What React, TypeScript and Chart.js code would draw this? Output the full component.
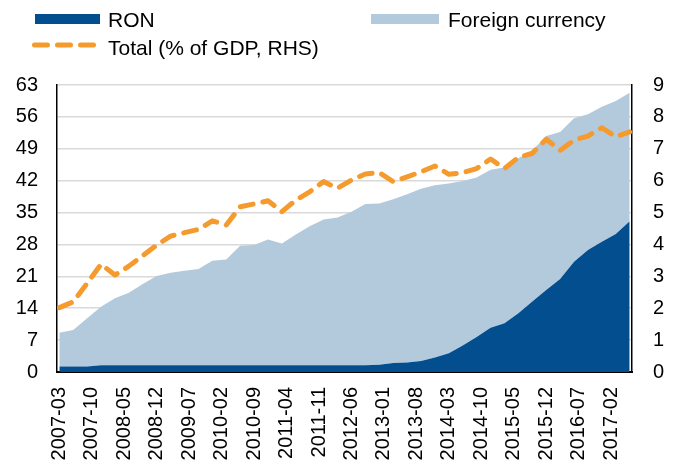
import React, { useEffect, useRef } from 'react';
import { Chart, registerables } from 'chart.js';

Chart.register(...registerables);

// Quarterly observations (end of quarter)
const quarters = [
  '2007-03', '2007-06', '2007-09', '2007-12',
  '2008-03', '2008-06', '2008-09', '2008-12',
  '2009-03', '2009-06', '2009-09', '2009-12',
  '2010-03', '2010-06', '2010-09', '2010-12',
  '2011-03', '2011-06', '2011-09', '2011-12',
  '2012-03', '2012-06', '2012-09', '2012-12',
  '2013-03', '2013-06', '2013-09', '2013-12',
  '2014-03', '2014-06', '2014-09', '2014-12',
  '2015-03', '2015-06', '2015-09', '2015-12',
  '2016-03', '2016-06', '2016-09', '2016-12',
  '2017-03', '2017-06',
];

// Stock, LHS
const ron = [
  1.2, 1.2, 1.2, 1.5, 1.5, 1.5, 1.5, 1.5, 1.5, 1.5,
  1.5, 1.5, 1.5, 1.5, 1.5, 1.5, 1.5, 1.5, 1.5, 1.5,
  1.5, 1.5, 1.5, 1.6, 2.0, 2.1, 2.4, 3.2, 4.1, 5.8,
  7.7, 9.7, 10.7, 12.9, 15.5, 18.0, 20.4, 24.2, 26.8, 28.6,
  30.3, 33.1,
];

const foreign = [
  7.4, 8.0, 10.6, 12.8, 14.7, 15.9, 17.8, 19.6, 20.3, 20.7,
  21.1, 22.9, 23.2, 26.2, 26.4, 27.6, 26.7, 28.7, 30.5, 32.0,
  32.4, 33.7, 35.4, 35.4, 35.9, 36.9, 37.8, 37.8, 37.3, 36.1,
  35.0, 34.7, 34.2, 34.0, 33.1, 33.8, 32.3, 31.5, 29.8, 29.6,
  29.2, 28.2,
];

// Total, % of GDP, RHS
const totalGdp = [
  2.02, 2.2, 2.78, 3.38, 3.04, 3.32, 3.65, 3.98, 4.26, 4.37,
  4.47, 4.74, 4.61, 5.18, 5.27, 5.37, 5.03, 5.39, 5.65, 5.97,
  5.76, 6.02, 6.21, 6.25, 5.97, 6.12, 6.28, 6.46, 6.2, 6.25,
  6.38, 6.68, 6.38, 6.73, 6.86, 7.3, 6.95, 7.27, 7.4, 7.66,
  7.38, 7.53,
];

const xTickLabels = [
  '2007-03', '2007-10', '2008-05', '2008-12', '2009-07', '2010-02',
  '2010-09', '2011-04', '2011-11', '2012-06', '2013-01', '2013-08',
  '2014-03', '2014-10', '2015-05', '2015-12', '2016-07', '2017-02',
];

const DARK = '#024E8E';
const LIGHT = '#B3C9DC';
const ORANGE = '#F59B2E';
const FONT = '"Liberation Sans", Arial, sans-serif';

const monthIndex = (s: string) => {
  const [y, m] = s.split('-').map(Number);
  return (y - 2007) * 12 + (m - 3);
};

const firstMonth = monthIndex(quarters[0]);
const lastMonth = monthIndex(quarters[quarters.length - 1]);

const pts = (vals: number[]) => vals.map((v, i) => ({ x: monthIndex(quarters[i]), y: v }));

const legendPlugin = {
  id: 'customLegend',
  afterDraw(chart: any) {
    const ctx = chart.ctx;
    const ds = chart.data.datasets;
    ctx.save();
    ctx.font = `21px ${FONT}`;
    ctx.textBaseline = 'alphabetic';
    ctx.textAlign = 'left';
    // RON
    ctx.fillStyle = DARK;
    ctx.fillRect(35, 14, 65, 10);
    ctx.fillStyle = '#000';
    ctx.fillText(ds[1].label, 108, 27);
    // Foreign currency
    ctx.fillStyle = LIGHT;
    ctx.fillRect(371, 14, 68, 10);
    ctx.fillStyle = '#000';
    ctx.fillText(ds[2].label, 448, 27);
    // Total
    ctx.strokeStyle = ORANGE;
    ctx.lineWidth = 5;
    ctx.lineCap = 'round';
    ctx.setLineDash([13, 10]);
    ctx.beginPath();
    ctx.moveTo(34.5, 45);
    ctx.lineTo(94, 45);
    ctx.stroke();
    ctx.setLineDash([]);
    ctx.fillStyle = '#000';
    ctx.fillText(ds[0].label, 108, 55);
    ctx.restore();
  },
};

export default function App() {
  const ref = useRef<HTMLCanvasElement | null>(null);

  useEffect(() => {
    if (!ref.current) return;
    const chart = new Chart(ref.current, {
      type: 'line',
      data: {
        datasets: [
          {
            label: 'Total (% of GDP, RHS)',
            data: pts(totalGdp),
            yAxisID: 'y1',
            borderColor: ORANGE,
            borderWidth: 5,
            borderDash: [13, 10],
            borderCapStyle: 'round',
            borderJoinStyle: 'round',
            pointRadius: 0,
            fill: false,
            tension: 0,
            order: 0,
          },
          {
            label: 'RON',
            data: pts(ron),
            yAxisID: 'y',
            backgroundColor: DARK,
            borderColor: DARK,
            borderWidth: 0,
            pointRadius: 0,
            fill: 'origin',
            tension: 0,
            order: 1,
          },
          {
            label: 'Foreign currency',
            data: pts(foreign),
            yAxisID: 'y',
            backgroundColor: LIGHT,
            borderColor: LIGHT,
            borderWidth: 0,
            pointRadius: 0,
            fill: '-1',
            tension: 0,
            order: 2,
          },
        ],
      } as any,
      options: {
        responsive: false,
        animation: false,
        events: [],
        layout: { padding: { top: 85, left: 0, right: 0, bottom: 0 } },
        plugins: {
          legend: { display: false },
          tooltip: { enabled: false },
        },
        scales: {
          x: {
            type: 'linear',
            position: 'bottom',
            min: firstMonth - 0.5,
            max: lastMonth + 0.5,
            z: 1,
            grid: { display: false, drawTicks: false },
            border: { display: true, color: '#000', width: 2 },
            afterBuildTicks: (scale: any) => {
              scale.ticks = xTickLabels.map((l) => ({ value: monthIndex(l) }));
            },
            afterFit: (scale: any) => {
              scale.height = 93;
            },
            ticks: {
              autoSkip: false,
              minRotation: 90,
              maxRotation: 90,
              padding: 15,
              color: '#000',
              font: { family: FONT, size: 20 },
              callback: (value: any) => {
                const l = xTickLabels.find((t) => monthIndex(t) === value);
                return l ?? '';
              },
            },
          },
          y: {
            type: 'linear',
            position: 'left',
            stacked: true,
            min: 0,
            max: 63,
            grid: { color: '#D9D9D9', lineWidth: 1.5, drawTicks: false },
            border: { display: true, color: '#000', width: 1.5 },
            afterFit: (scale: any) => {
              scale.width = 57;
            },
            ticks: {
              stepSize: 7,
              padding: 19,
              color: '#000',
              font: { family: FONT, size: 20 },
            },
          },
          y1: {
            type: 'linear',
            position: 'right',
            min: 0,
            max: 9,
            grid: { drawOnChartArea: false, drawTicks: false },
            border: { display: true, color: '#000', width: 1.5 },
            afterFit: (scale: any) => {
              scale.width = 44;
            },
            ticks: {
              stepSize: 1,
              padding: 21,
              color: '#000',
              font: { family: FONT, size: 20 },
            },
          },
        },
      } as any,
      plugins: [legendPlugin],
    });
    return () => chart.destroy();
  }, []);

  return (
    <div style={{ position: 'absolute', left: 0, top: 0, width: 676, height: 465, background: '#fff' }}>
      <canvas ref={ref} width={676} height={465} style={{ display: 'block' }} />
    </div>
  );
}
